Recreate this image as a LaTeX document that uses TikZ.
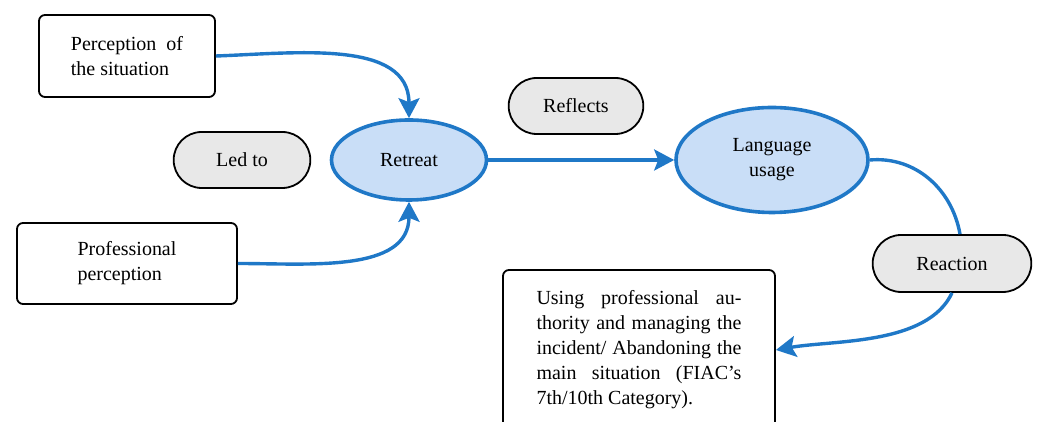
\documentclass[tikz,border=0pt]{standalone}
\usepackage{fontspec}
\setmainfont{Liberation Serif}
\usepackage{tikz}
\usetikzlibrary{arrows.meta}
\usetikzlibrary{shapes.geometric}
\usetikzlibrary{shapes.misc}
\definecolor{flowblue}{rgb}{0.12,0.47,0.78}
\definecolor{stagefill}{rgb}{0.79,0.87,0.97}
\definecolor{pillfill}{rgb}{0.91,0.91,0.91}
\tikzset{
  every node/.style={font=\fontsize{10}{12.5}\selectfont},
  factbox/.style={draw, line width=0.9pt, rounded corners=3pt, align=left},
  linkpill/.style={draw, line width=0.9pt, rounded rectangle, fill=pillfill, minimum height=28pt},
  stage/.style={draw=flowblue, line width=1.8pt, ellipse, fill=stagefill, align=center},
  flow/.style={draw=flowblue, line width=1.7pt, -{Stealth[length=10pt,width=10.5pt,inset=2pt]}},
  plainflow/.style={draw=flowblue, line width=1.7pt}
}
\begin{document}
\begin{tikzpicture}[line join=round]
\useasboundingbox (0pt,0pt) rectangle (520.5pt,211pt);
%%
\node (situation) at (63.5pt,183pt) [factbox,minimum width=88pt,minimum height=41pt] {Perception\ \ of\\the situation};
  \node (professional) at (63.5pt,79.25pt) [factbox,minimum width=110pt,minimum height=40.5pt] {Professional\\perception};
  \node (ledto) at (121pt,131pt) [linkpill,minimum width=75pt] {Led to};
  \node (retreat) at (204.5pt,131pt) [stage,minimum width=77.5pt,minimum height=40pt] {Retreat};
  \node (reflects) at (288pt,158pt) [linkpill,minimum width=74pt] {Reflects};
  \node (language) at (386pt,131pt) [stage,minimum width=96pt,minimum height=52.5pt] {Language\\usage};
  \node (reaction) at (476pt,79.25pt) [linkpill,minimum width=86pt,minimum height=28.5pt] {Reaction};
  \node (outcome) at (319.5pt,36pt) [factbox,minimum width=136pt,minimum height=80pt,text width=102.5pt,align=justify] {Using professional au-\linebreak thority and managing the\linebreak incident/ Abandoning the\linebreak main situation (FIAC’s\linebreak 7th/10th Category).};
  \draw [flow] (situation.east) to[out=2,in=90] (retreat.north);
  \draw [flow] (professional.east) to[out=0,in=-90] (retreat.south);
  \draw [flow] (retreat.east) -- (language.west);
  \draw [plainflow] (language.east) to[out=5,in=100] ([xshift=4pt]reaction.north);
  \draw [flow] (reaction.south) to[out=-115,in=10,looseness=0.8] (outcome.east);
%
\end{tikzpicture}
\end{document}
